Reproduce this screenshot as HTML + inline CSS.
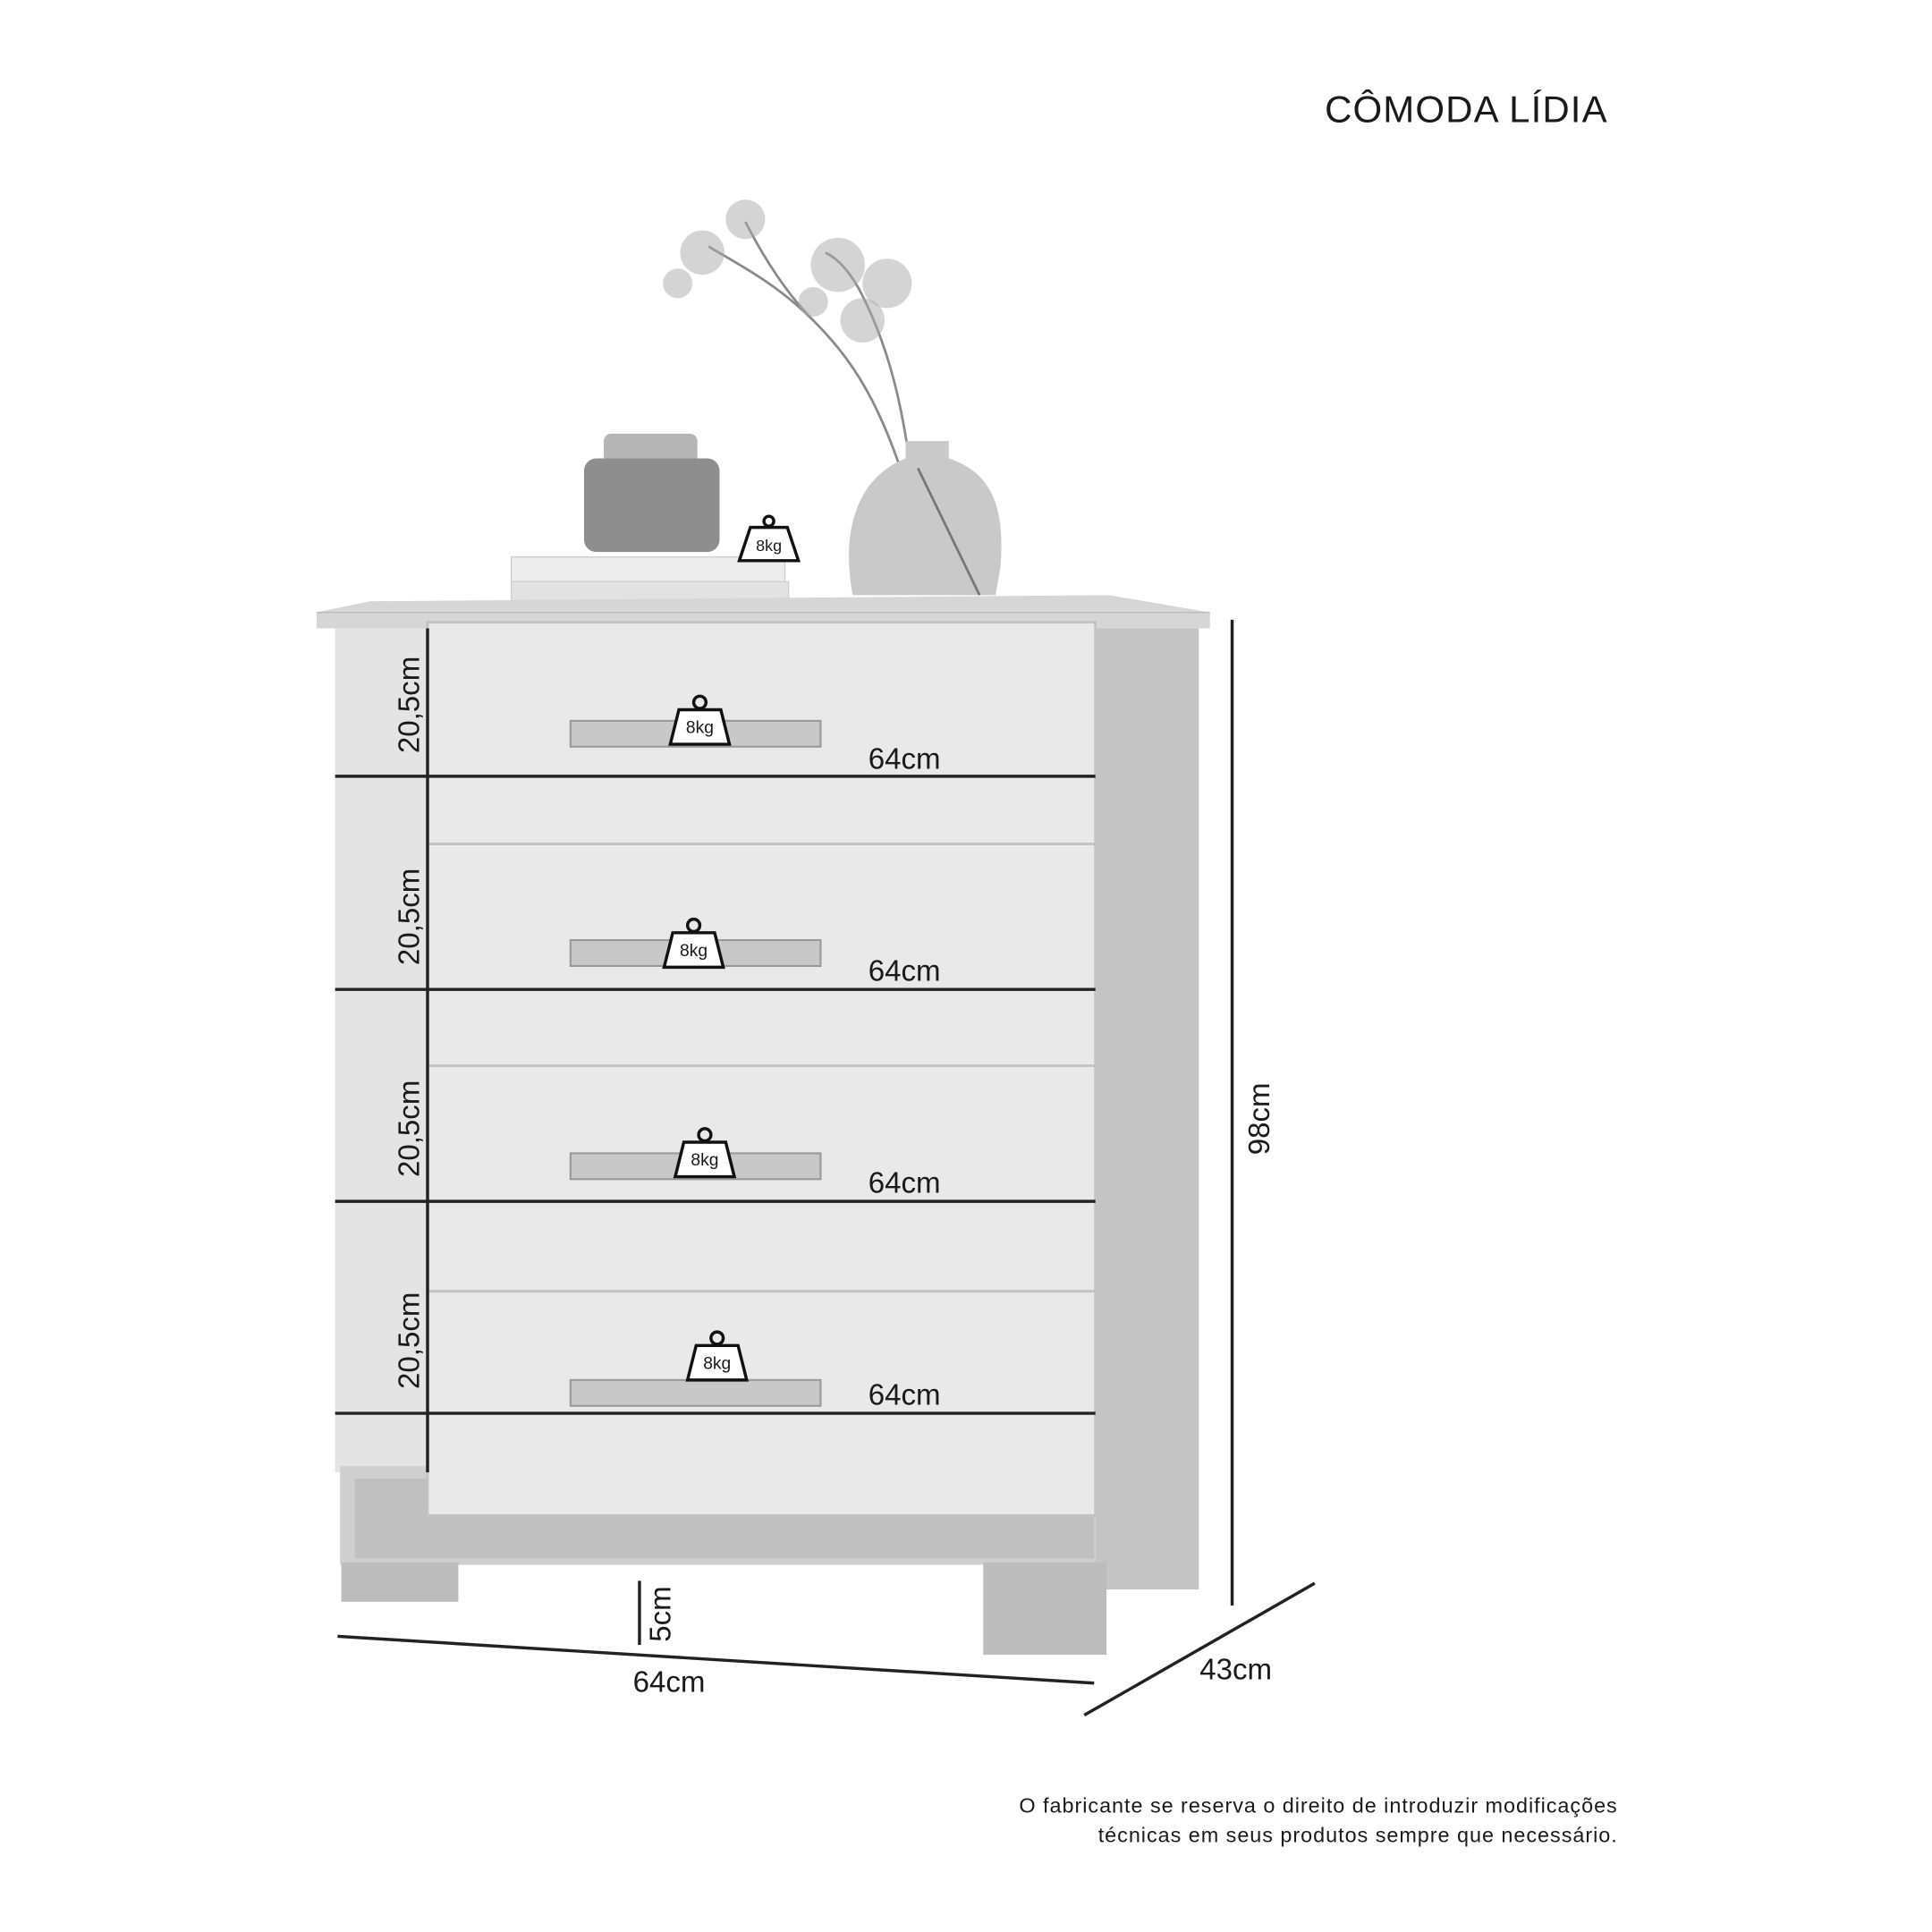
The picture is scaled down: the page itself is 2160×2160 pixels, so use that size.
<!DOCTYPE html>
<html><head><meta charset="utf-8"><style>
html,body{margin:0;padding:0;background:#fff;}
svg{display:block;}
text{font-family:"Liberation Sans",sans-serif;fill:#1a1a1a;}
</style></head><body>
<svg width="2160" height="2160" viewBox="0 0 1568 1568" xmlns="http://www.w3.org/2000/svg">
<rect width="1568" height="1568" fill="#fff"/>
<text x="1305" y="99" font-size="30.5" text-anchor="end" letter-spacing="0.8">CÔMODA LÍDIA</text>

<!-- plant -->
<g stroke="#8a8a8a" stroke-width="2" fill="none">
<path d="M745 425 C720 340 700 300 660 260 C630 230 600 215 575 200"/>
<path d="M745 425 C735 340 725 290 700 240"/>
<path d="M660 260 C640 240 620 210 605 180"/>
<path d="M700 240 C690 220 680 210 670 205"/>
</g>
<g fill="#aaa">
<circle cx="570" cy="205" r="18" opacity=".5"/><circle cx="605" cy="178" r="16" opacity=".5"/><circle cx="550" cy="230" r="12" opacity=".5"/>
<circle cx="680" cy="215" r="22" opacity=".5"/><circle cx="720" cy="230" r="20" opacity=".5"/><circle cx="700" cy="260" r="18" opacity=".5"/><circle cx="660" cy="245" r="12" opacity=".5"/>
</g>
<!-- vase -->
<path d="M735 358 L770 358 L770 372 C810 385 815 420 812 460 L808 483 L692 483 C684 440 690 390 735 372 Z" fill="#c9c9c9"/>
<line x1="745" y1="380" x2="795" y2="483" stroke="#777" stroke-width="2"/>
<!-- jar -->
<rect x="490" y="352" width="76" height="24" rx="6" fill="#b5b5b5"/>
<rect x="474" y="372" width="110" height="76" rx="10" fill="#8e8e8e"/>
<!-- books -->
<rect x="415" y="452" width="222" height="20" fill="#ececec" stroke="#cfcfcf"/>
<rect x="415" y="472" width="225" height="18" fill="#e2e2e2" stroke="#cfcfcf"/>
<!-- 8kg top -->
<g transform="translate(624,440)">
<circle cx="0" cy="-17" r="4" fill="none" stroke="#111" stroke-width="2.5"/>
<path d="M-15 -12 L15 -12 L24 15 L-24 15 Z" fill="#fff" stroke="#111" stroke-width="2.5"/>
<text x="0" y="7" font-size="13" text-anchor="middle">8kg</text>
</g>

<!-- top slab -->
<polygon points="257,497 300,488 900,483 982,497 982,510 257,510" fill="#d6d6d6"/>
<line x1="257" y1="497" x2="982" y2="497" stroke="#bdbdbd"/>
<!-- right side -->
<rect x="889" y="510" width="84" height="780" fill="#c4c4c4"/>
<!-- left column -->
<rect x="272" y="510" width="75" height="685" fill="#e4e4e4"/>
<!-- plinth -->
<rect x="276" y="1190" width="613" height="80" fill="#cfcfcf"/>
<rect x="288" y="1200" width="600" height="65" fill="#c0c0c0"/>
<!-- feet -->
<rect x="277" y="1268" width="95" height="32" fill="#bcbcbc"/>
<rect x="798" y="1268" width="100" height="75" fill="#bcbcbc"/>
<!-- drawers fronts -->
<g fill="#e9e9e9" stroke="#c2c2c2" stroke-width="2">
<rect x="347" y="505" width="542" height="180"/>
<rect x="347" y="685" width="542" height="180"/>
<rect x="347" y="865" width="542" height="183"/>
<rect x="347" y="1048" width="542" height="182"/>
</g>
<!-- handles -->
<g fill="#c8c8c8" stroke="#999" stroke-width="1.5">
<rect x="463" y="585" width="203" height="21"/>
<rect x="463" y="763" width="203" height="21"/>
<rect x="463" y="936" width="203" height="21"/>
<rect x="463" y="1120" width="203" height="21"/>
</g>
<!-- dimension lines -->
<g stroke="#222" stroke-width="2.5">
<line x1="347" y1="510" x2="347" y2="1195"/>
<line x1="272" y1="630" x2="889" y2="630"/>
<line x1="272" y1="803" x2="889" y2="803"/>
<line x1="272" y1="975" x2="889" y2="975"/>
<line x1="272" y1="1147" x2="889" y2="1147"/>
<line x1="1000" y1="503" x2="1000" y2="1303"/>
<line x1="274" y1="1328" x2="888" y2="1366"/>
<line x1="880" y1="1392" x2="1067" y2="1285"/>
<line x1="519" y1="1283" x2="519" y2="1335"/>
</g>
<g transform="translate(568,592)"><circle cx="0" cy="-22" r="5" fill="none" stroke="#111" stroke-width="2.5"/><path d="M-17 -16 L17 -16 L24 12 L-24 12 Z" fill="#fff" stroke="#111" stroke-width="2.5"/><text x="0" y="3" font-size="14" text-anchor="middle">8kg</text></g>
<g transform="translate(563,773)"><circle cx="0" cy="-22" r="5" fill="none" stroke="#111" stroke-width="2.5"/><path d="M-17 -16 L17 -16 L24 12 L-24 12 Z" fill="#fff" stroke="#111" stroke-width="2.5"/><text x="0" y="3" font-size="14" text-anchor="middle">8kg</text></g>
<g transform="translate(572,943)"><circle cx="0" cy="-22" r="5" fill="none" stroke="#111" stroke-width="2.5"/><path d="M-17 -16 L17 -16 L24 12 L-24 12 Z" fill="#fff" stroke="#111" stroke-width="2.5"/><text x="0" y="3" font-size="14" text-anchor="middle">8kg</text></g>
<g transform="translate(582,1108)"><circle cx="0" cy="-22" r="5" fill="none" stroke="#111" stroke-width="2.5"/><path d="M-17 -16 L17 -16 L24 12 L-24 12 Z" fill="#fff" stroke="#111" stroke-width="2.5"/><text x="0" y="3" font-size="14" text-anchor="middle">8kg</text></g>

<g font-size="24">
<text x="734" y="624" text-anchor="middle">64cm</text>
<text x="734" y="796" text-anchor="middle">64cm</text>
<text x="734" y="968" text-anchor="middle">64cm</text>
<text x="734" y="1140" text-anchor="middle">64cm</text>
<text transform="translate(340,572) rotate(-90)" text-anchor="middle">20,5cm</text>
<text transform="translate(340,744) rotate(-90)" text-anchor="middle">20,5cm</text>
<text transform="translate(340,916) rotate(-90)" text-anchor="middle">20,5cm</text>
<text transform="translate(340,1088) rotate(-90)" text-anchor="middle">20,5cm</text>
<text transform="translate(1030,908) rotate(-90)" text-anchor="middle">98cm</text>
<text transform="translate(544,1310) rotate(-90)" text-anchor="middle">5cm</text>
<text x="543" y="1373" text-anchor="middle">64cm</text>
<text x="1003" y="1363" text-anchor="middle">43cm</text>
</g>
<g font-size="17" fill="#333">
<text x="1313" y="1471" text-anchor="end" letter-spacing="0.7">O fabricante se reserva o direito de introduzir modificações</text>
<text x="1313" y="1495" text-anchor="end" letter-spacing="0.7">técnicas em seus produtos sempre que necessário.</text>
</g>
</svg>
</body></html>
